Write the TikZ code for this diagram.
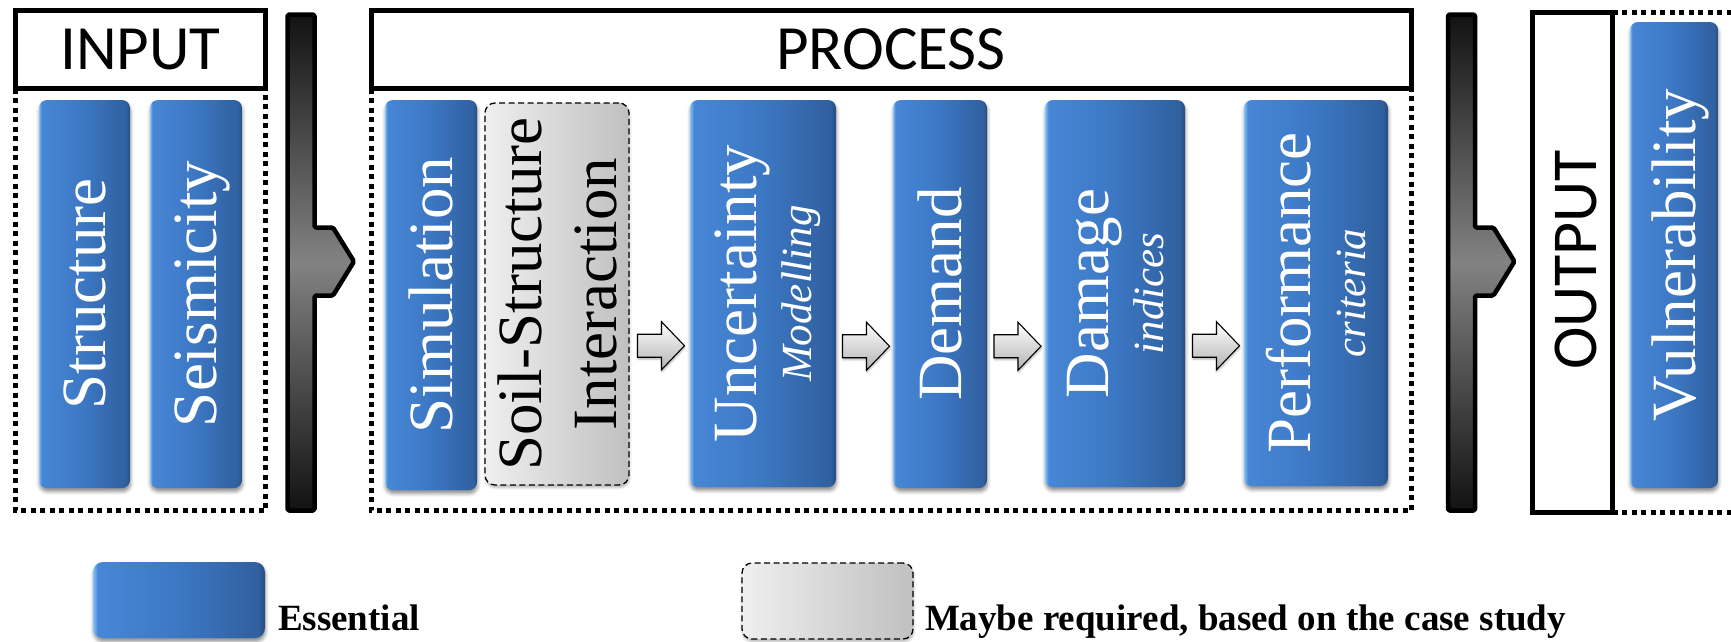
\documentclass[tikz,border=0pt]{standalone}
\usepackage{fontspec}
\setmainfont{Liberation Serif}
\newfontfamily\lblfont{Liberation Serif}
\newfontfamily\hdrfont{Carlito}
\usetikzlibrary{calc,shadows.blur}

% colours
\definecolor{blHi}{HTML}{86C3F7}
\definecolor{blA}{HTML}{4787D6}
\definecolor{blB}{HTML}{3C77C3}
\definecolor{blC}{HTML}{30609F}
\definecolor{grA}{HTML}{EFEFEF}
\definecolor{grB}{HTML}{C0C0C0}
\definecolor{barDark}{HTML}{121212}
\definecolor{barMid}{HTML}{828282}

% fills
\pgfdeclarehorizontalshading{essentialfill}{100bp}{color(0bp)=(blHi); color(25bp)=(blHi); color(26.3bp)=(blA); color(50bp)=(blB); color(73bp)=(blC); color(75bp)=(blC!80!black); color(100bp)=(blC!80!black)}
\pgfdeclarehorizontalshading{optionalfill}{100bp}{color(0bp)=(grA); color(25bp)=(grA); color(75bp)=(grB); color(100bp)=(grB)}
\pgfdeclareverticalshading{flowbarfill}{100bp}{color(0bp)=(barDark); color(25bp)=(barDark); color(50bp)=(barMid); color(75bp)=(barDark); color(100bp)=(barDark)}

\newcommand\minorlabel{\lblfont\itshape\fontsize{43}{75}\selectfont}

\tikzset{
  every node/.style={inner sep=0pt, outer sep=0pt},
  hdr/.style={rectangle, draw=black, fill=white, line width=5pt,
    font=\hdrfont\fontsize{63}{70}\selectfont},
  hdrtext/.style={rotate=90, font=\hdrfont\fontsize{64}{70}\selectfont},
  dotline/.style={draw=black, line width=5pt, dash pattern=on 5pt off 4.5pt},
  ess/.style={rectangle, rounded corners=8pt, shade, shading=essentialfill,
    blur shadow={shadow xshift=0.5pt, shadow yshift=-3.5pt, shadow blur radius=3.5pt, shadow opacity=45}},
  opt/.style={rectangle, rounded corners=10pt, shade, shading=optionalfill,
    draw=black, line width=1.3pt, dash pattern=on 6pt off 3.5pt,
    blur shadow={shadow xshift=0.5pt, shadow yshift=-2.5pt, shadow blur radius=2.5pt, shadow opacity=30}},
  lbl/.style={rotate=90, align=center, text depth=0pt, text=white,
    font=\lblfont\fontsize{63}{75}\selectfont},
  optlbl/.style={lbl, text=black},
  key/.style={anchor=base west, font=\lblfont\bfseries\fontsize{37}{44}\selectfont},
  % block arrow between two process steps, centred on its placement point
  steparrow/.pic={
    \path[draw=black, line width=1.1pt, line join=miter, top color=white, bottom color=gray!60,
          blur shadow={shadow xshift=0.5pt, shadow yshift=-2pt, shadow blur radius=2pt, shadow opacity=30}]
      (-23.5,-11.5) -- (0.5,-11.5) -- (0.5,-24) -- (23.5,0) -- (0.5,24) -- (0.5,11.5) -- (-23.5,11.5) -- cycle;
  },
  % thick bar with a side notch pointing to the next stage
  flowbar/.pic={
    \path[draw=black, line width=4.5pt, line join=round, rounded corners=1.5pt, shade, shading=flowbarfill]
      (0,14.5) -- (27,14.5) -- (27,227.5) -- (45.5,227.5) -- (66.5,261.5)
      -- (45.5,295.5) -- (27,295.5) -- (27,510.5) -- (0,510.5) -- cycle;
  }
}

\begin{document}
\begin{tikzpicture}[x=1pt, y=-1pt]
\useasboundingbox (0,0) rectangle (1731,641);
\coordinate (floor) at (0,510.5);

% stage headers
\node[hdr, minimum width=250pt, minimum height=78pt] (input) at (140.5,49.5) {INPUT};
\node[hdr, minimum width=1040pt, minimum height=78pt] (process) at (891,49.5) {PROCESS};

% dotted frames below the headers
\draw[dotline] (input.south west) -- (input.south west |- floor) -- (input.south east |- floor) -- (input.south east);
\draw[dotline] (process.south west) -- (process.south west |- floor) -- (process.south east |- floor) -- (process.south east);

% output header and its open frame
\node[hdr, minimum width=80pt, minimum height=500pt] (output) at (1572.5,262.5) {};
\draw[dotline] (output.north east) -- ++(140,0);
\draw[dotline] (output.south east) -- ++(140,0);
\node[hdrtext] (output-t) at (1576,260) {OUTPUT};

% transition bars
\pic (inbar) at (287.5,0) {flowbar};
\pic (outbar) at (1448,0) {flowbar};

% input items
\node[ess, minimum width=91pt, minimum height=388pt] (structure) at (84.5,294) {};
\node[lbl] (structure-t) at (structure.center) {Structure};
\node[ess, minimum width=92pt, minimum height=388pt] (seismicity) at (196,294) {};
\node[lbl] (seismicity-t) at (seismicity.center) {Seismicity};

% process items
\node[ess, minimum width=92pt, minimum height=390pt] (simulation) at (431,295) {};
\node[lbl] (simulation-t) at (simulation.center) {Simulation};
\node[opt, minimum width=144pt, minimum height=382pt] (ssi) at (557,294) {};
\node[optlbl] (ssi-t) at (ssi.center) {Soil-Structure\\Interaction};
\node[ess, minimum width=146pt, minimum height=387pt] (uncertainty) at (763,293.5) {};
\node[lbl] (uncertainty-t) at (uncertainty.center) {Uncertainty\\[-20pt]{\minorlabel Modelling}};
\node[ess, minimum width=94pt, minimum height=388pt] (demand) at (940,294) {};
\node[lbl] (demand-t) at (demand.center) {Demand};
\node[ess, minimum width=140pt, minimum height=387pt] (damage) at (1115,293.5) {};
\node[lbl] (damage-t) at (damage.center) {Damage\\[-20pt]{\minorlabel indices}};
\node[ess, minimum width=144pt, minimum height=386pt] (performance) at (1316,293) {};
\node[lbl] (performance-t) at (performance.center) {Performance\\[-20pt]{\minorlabel criteria}};

% step arrows between process items
\pic (ar1) at ($(ssi.east)!.5!(uncertainty.west)+(1.5,52)$) {steparrow};
\pic (ar2) at ($(uncertainty.east)!.5!(demand.west)+(1.5,52.5)$) {steparrow};
\pic (ar3) at ($(demand.east)!.5!(damage.west)+(1.5,52.5)$) {steparrow};
\pic (ar4) at ($(damage.east)!.5!(performance.west)+(1.5,52.5)$) {steparrow};

% output item
\node[ess, minimum width=88pt, minimum height=466pt] (vulnerability) at (1674,255) {};
\node[lbl] (vulnerability-t) at (vulnerability.center) {Vulnerability};

% legend
\node[ess, rounded corners=10pt, minimum width=172pt, minimum height=76pt] (ess-box) at (179,600) {};
\node[key] (ess-key) at (278,630) {Essential};
\node[opt, minimum width=171pt, minimum height=76pt] (opt-box) at (827.5,601) {};
\node[key] (opt-key) at (925,630) {Maybe required, based on the case study};
\end{tikzpicture}
\end{document}
